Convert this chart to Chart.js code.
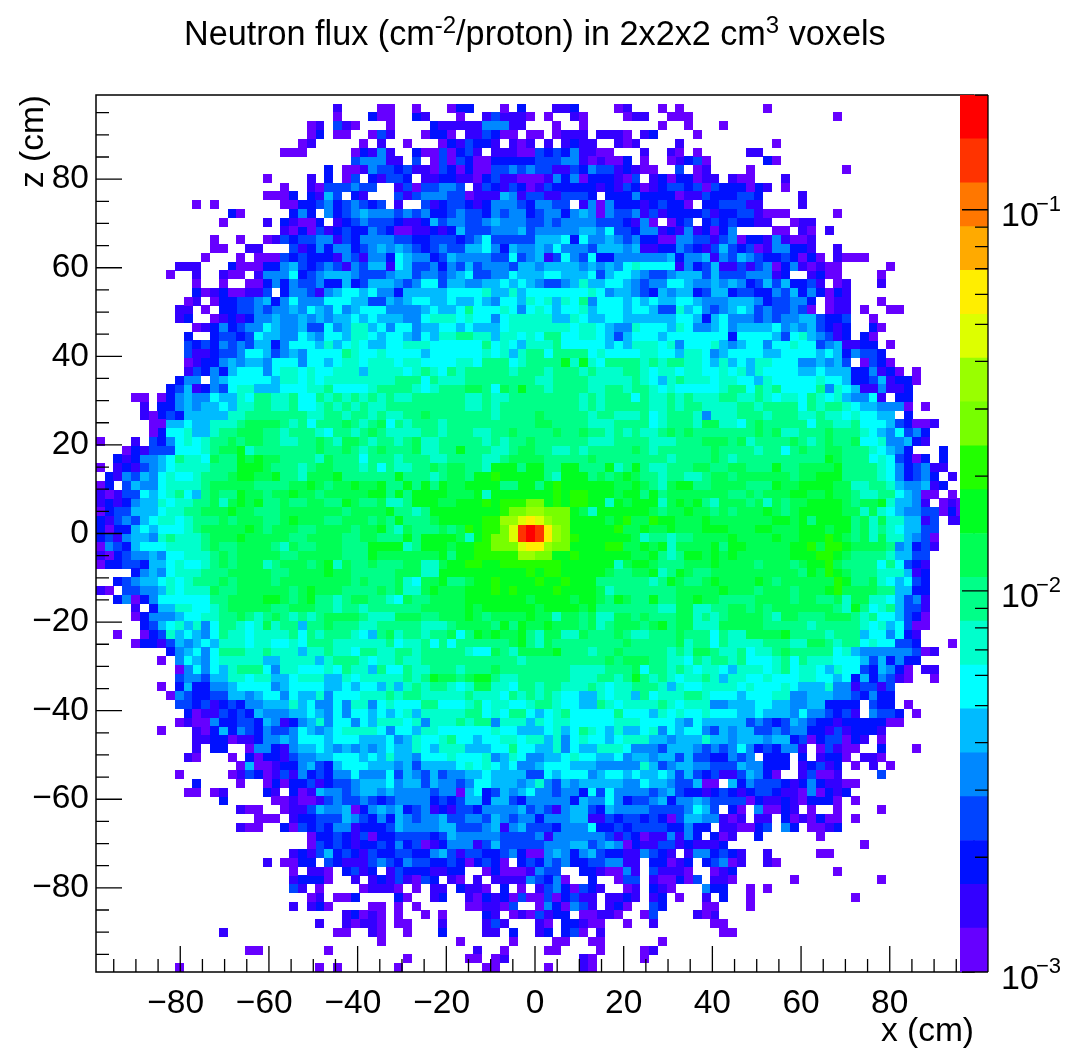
<!DOCTYPE html>
<html>
<head>
<meta charset="utf-8">
<title>Neutron flux</title>
<script src="https://cdn.jsdelivr.net/npm/chart.js@4"></script>
<style>
body { margin: 0; background: #fff; }
canvas { position: absolute; top: 0; }
#flux { left: 0; }
#palette { left: 950px; }
</style>
</head>
<body>
<canvas id="flux" width="1068" height="1052"></canvas>
<canvas id="palette" width="118" height="1052"></canvas>
<script>
const fontName = '"Liberation Sans", Arial, sans-serif';

const xTicks = [-80, -60, -40, -20, 0, 20, 40, 60, 80];
const zTicks = [-80, -60, -40, -20, 0, 20, 40, 60, 80];
const minorTicks = [-95, -90, -85, -75, -70, -65, -55, -50, -45, -35, -30, -25, -15, -10, -5, 5, 10, 15, 25, 30, 35, 45, 50, 55, 65, 70, 75, 85, 90, 95];

// bottom to top of the colour bar
const paletteColors = ['#6600ff', '#3300ff', '#0011ff', '#0044ff', '#0088ff', '#00bbff', '#00ffff', '#00ffcc', '#00ff88', '#00ff55', '#00ff22', '#22ff00', '#77ff00', '#99ff00', '#ddff00', '#ffee00', '#ffaa00', '#ff7700', '#ff3300', '#ff0000'];
const levelEdges = [0.001, 0.001303, 0.001699, 0.002213, 0.002885, 0.00376, 0.0049, 0.006388, 0.008326, 0.01085, 0.01414, 0.01843, 0.02402, 0.03131, 0.04081, 0.05318, 0.06931, 0.09034, 0.1177, 0.1534, 0.2];
const levelChars = '0123456789abcdefghij';
const barMajorTicks = [0.001, 0.01, 0.1];
const barExponents = ['\u22123', '\u22122', '\u22121'];
const barMinorTicks = [0.002, 0.003, 0.004, 0.005, 0.006, 0.007, 0.008, 0.009, 0.02, 0.03, 0.04, 0.05, 0.06, 0.07, 0.08, 0.09, 0.2];

const binLow = -99;
const binWidth = 1.98;
const segmentStarts = [0, 33, 66];

const titleParts = [['Neutron flux (cm', 0], ['-2', 1], ['/proton) in 2x2x2 cm', 0], ['3', 1], [' voxels', 0]];

// one string per row of voxels from the top, one char per bin = colour band, '.' = empty.
// the spaces only split the row at columns 33 and 66
const cellRows = [
"",
"...........................1....0 0..0...022...0.2...112....01...0. 0.........0",
"...........................0...20 0..21...0..131110.0..10....011..0 00................0",
"........................01.310... 0....21111144411...0..0........0. .0...0",
"........................02.00..03 1...0220.113200.00.0111.1110.12.. ..0",
".......................01.....0.1 ..0...0213221.101.1.1211..101.... 1..........0",
".....................000.....0214 1..20030231.11100323241100...1..1 0.0.....11",
".............................3444 11.3.03032002222233344101002.0..0 1230......20",
"..........................2.00143 3231103202003343433113243312100.. 3.01....0..........0",
"...................0....1.2.03.21 332.1122110231100014240222103.120 22011.100...1",
".....................0..10333433. .13033443.13213201322222121320123 32303222021.0",
"...................0002.2153.21.. .31344433011154133113332.22242222 0113222332....1",
"...........0.0.......002234234323 .1..31233212444324433.14042221232 20.2233311....1",
"...............20.....242.4234544 434342234332434423442454043341312 2223122331000.....0",
"..............0....1.21002.123433 3211253443345444334344443332140.0 23.23232211..011",
".....................102031232243 200112125333444534444455463324412 1412024....00.10.1",
".............0..0..01323344132444 433223332346333335556264454342200 4433134022141001",
".............00..11...31242442345 454323433556425445464443555451122 4321353230144221..1",
"............0...0.000323222143144 265442354444336345136436224444445 24451435432232020.1000",
".........111...200022453234314355 165334243534443554555545454676666 1423511313402410100.....0",
"........0..1..100.144462345554333 455344345633446555665556356654334 5553533344412..1200....0",
"...........0..0..0024243342252355 543466355445565654334575566543446 65445454235352231.01...1",
"...........201200113.244314566564 425555566667557566666667645543254 55235523322435242021",
"..........01.02233452464446665533 545665565565466576757684666565655 6654445554233442.011...0",
".........11.0.2233434454654645666 444456556866676467656675666566533 7564345653433430.011.0..00",
".........12..01212445445454556565 554467776766467777755765566555555 66525644434344553223..0",
"...........0124234465445336457756 466455665655567777777677654476665 76445645555645453212..20",
"..........2..23323655446546657765 665465778877577676886677653566656 66666626666536754312.20",
"..........32324343552466657567655 667776666668676577786666656577767 46667545664667663451122.0",
"..........31123346653454666687667 666656666667675788688886766667766 577645666655666656524332",
"..........01224545546664665677677 76776666776888678888a7a7688887878 87765756577666445453.0320",
"..........13242566646776766777577 776787687888887888788878777887677 67766767576666556555224120.0",
".........244.45666665776767777777 788868777888888887788887777787657 8777677665766666766522351220",
"........2351243677555666778666678 888767888998698a88788887788788767 666667886878666684765114112",
"....00.02454465576887786687878787 877888888778778888888878788868778 787778877876776876754461.22",
".....1.22454556577887786678787877 888888888778788888888878788888778 788777788788886878876554440.0",
".....1023255555778888888778878878 778898888888788889888887887778678 8874777888788877877676655.2",
"......005565577789999878688898789 687888788888888889988887778888678 887997768988888688778666532001",
"......026675578899988788876887898 777788788877889888898898878787789 89888888898977888988876546342",
"0...1.324676788989988778898799878 878977888887878898888887778888777 88899989788889878988966744521",
"...0213336667899a7888888898898789 88897788a888778998877878888898788 888898888788689889988876542...2",
"..21244568776988a9a99888879888688 878887788887789999888889888888887 88889878888888888a98886763202.2",
"0.12134567777888aaa98887899888786 877889899887aaa8aa88aa888a78a8778 88998899888a889999a888876423411",
".214354676678889aa99a887999a88888 8a88878998aabaaaaa87aaa8989a98878 8778998999999899aaa88887642342.1",
"02.354467777899999888899a9899a99a 88a8a8a99aaaa88aa8abaaaaaa99a9879 aa889999888a99aaaa9977887544512",
"1013365678658988a99899a99899999aa 8a8aaaa999a7aaaaaaababbaaa9aa8a89 9999998898999aa99a998778865400.0",
"1212455767788979a9a889889988a9889 778aaa99aaababbbccababbaa7a9aaa79 a9a879998979899aaaa9899a75541.010",
"023355567788999a99888999999989999 a8878aaaaaaaabccddccca97aaaaaa989 9a99898999a989aaaaa99797654433020",
"2134356776788898999889a9998899989 8a8889aaaaabbddefedccaaaa9ab99baa 999a9999999aa9a8aaaa8979775513.11",
"20225656667899999a98999889999899a 879888989babbceijifdcaaaaab99a99a 999aaa999aa999aaa9aa8978765533",
"2314554787778999a9999988999988998 88a8aaaa97abcceijifdcbaaaaaa97887 889999a9999a99aaaba98979775430",
"0432566677778988999987988999888aa aa78aaa9aabbccceffdccaaaabb99a9a7 9999a8aa99999aab9bba9999845231",
"1023445466777898999998899999888a9 999999a8aabbbbbddccaabaaaaaa99a87 8aa9a9a999999aaabba9888875533",
"02233255676678989997899989a798898 8899779aabbaabbbbbbbaaaaaa79aa988 8999a9999899989aab98888686321",
"....2454677788899999889999a998888 899977aaaaaaaaaababbaaaaa98899a78 a98899999999998a9ba9888777512",
"..2345567678889899998999999998988 897699a889aabaaaabaabaaa88888878a 9889a9999a98999999ba889765632",
"10.334457677798899999989a99988889 89779a999aaababaaaabaaaa978888888 99999a99989998999ab9999885522",
"..24024666666889999aa989a88789988 769889999aaaaaaa9aaaa9aa98a988a88 99a99888899998998897997765341",
"....1.255776678999998899988788788 888899999a9aaaaaa9aaaa9a888888877 99778899898999999987a86785331",
"....02444566778898789878789999877 799988999a989999a9979989779989888 99787899998799888999878665320",
".....2356757468876797885889888778 8888777899998a8a99a999897899989a8 99777999998888878888876756300",
"..0..0237565468776777786878887658 9788788968a9a99a87997798889877888 988868779999a888878885664621",
"....02213545657776776676888777777 867786868888889a87988888888988888 9788687777888779987886766332...0",
"........2456468887787775778776887 7887888887669879999a8887889888887 879987786778988888675444444301",
".......0.465467777755777757888767 787788888888888788888888898999887 7687887866678687776665352422",
".........046465788864776667687758 668778887888988888888777788896887 876776577767867765766325420.11",
".........344355776775567775576777 77878a9989aa8778888887778878a8787 677875776676667766562524310..0",
".......0.252244566664566665565665 757878876799776887887778767788875 7667777676667655574413313",
"........0432233554566465574666777 878877777877768787876655767758677 7887666566677445554432422",
".........332312324455575644647746 766688666786776678876655876777787 677744555665544552222.322.0",
"..........20113232544455654646656 567577777886768865678666668666576 766766655655546443231.4332.0",
".........010042233254124574664657 776747778788477757677666667776666 54655555343235432212222200",
".......0...1025243243346545677776 466577666666766555675687657556746 566435455334344221312221",
"...........1122011244546665666555 645766786656677677574676656777554 5557554555455230233021.0",
"...........1.22..0442145565454545 655765777555668665574655777644435 554343464232441.03100..2...0",
"..........10...0.2022134455666565 755466676667457644556766556455455 353322434.222.2.1220.110",
"................05001224532566655 545355556767656445666555444447534 5544333544222.12312.0.1.0",
".........0.....013201314232446444 635435344556555533656664566565565 353231135420..13001....3",
"...........2....0..02022312334555 645535443466555457435455555446554 33500.524333212421100",
"..........00.01....21.20154434554 544443440562354564434426364444345 32212321233211040212",
"..............2.....0010013433432 344442323552553244444254464233452 4454333302112102220.0",
"................100..011354450245 452341213324444534314553254444333 34653.20.40021.0..0....0",
"..................000.12233354324 254344533443543442444551132332320 35544101.11.2010200.0",
"................100..203232441222 354444553334514533324446223233332 2422.110023.42.0012",
"........................022321302 233332354444433334144444431320114 142.201..2......0",
"........................032321223 242301244413533333444553454021133 121112...............0",
"......................12135232132 233224531332234200454245322114321 .1442321..1.....00",
"...................1.0022.3211134 32433223202320.23243422334411.220 12.23401..10",
"......................0.110.2312. 132221122..020001433..2210041.311 10..012...........0",
"......................12220..1.12 131032.10.1.111143240..2..033.100 203.110......0.........0",
"......................31.0....011 10.0.11.2110.2.0.13420321..01.210 ...422..0.0",
"........................01.002... .20..12..102120300302311.1121.12. 0..1.2..0...........0",
"......................1.120....00 .0.0.....001103..0420431.120..32. ...00...0",
"............................12010 .0..0.0....21.0103122.00110..03.. ..101",
".........................1..10110 .00...1....131...10.22100..0..1.. ....00",
"..............1............00..10 ..0...2....11.2..12.230.1........ .....00",
"................................0 ........0.....0....00..00......0.",
".................00.......0...... ..........1..0....00....0....01..",
". ..0......00.01........10.....0...",
".........0...............0.0..... .0.........00.....0...10........."
];

const cellsByLevel = paletteColors.map(() => []);
cellRows.forEach((row, r) => {
    row.split(' ').forEach((segment, s) => {
        [...segment].forEach((ch, i) => {
            const level = levelChars.indexOf(ch);
            if (level < 0) return;
            cellsByLevel[level].push({
                x: binLow + (segmentStarts[s] + i + 0.5) * binWidth,
                y: -binLow - (r + 0.5) * binWidth
            });
        });
    });
});

function cellSprite(color) {
    const sprite = document.createElement('canvas');
    sprite.width = 9;
    sprite.height = 9;
    const c = sprite.getContext('2d');
    c.fillStyle = color;
    c.fillRect(0, 0, 9, 9);
    return sprite;
}

function tickLabel(v) {
    return v < 0 ? '\u2212' + (-v) : String(v);
}

const frameAndTicks = {
    id: 'frameAndTicks',
    beforeDatasetsDraw(chart) {
        chart.ctx.imageSmoothingEnabled = false;
    },
    afterDatasetsDraw(chart) {
        const ctx = chart.ctx;
        const area = chart.chartArea;
        const xs = chart.scales.x;
        const ys = chart.scales.y;
        ctx.save();
        ctx.strokeStyle = '#000';
        ctx.lineWidth = 1.5;
        ctx.strokeRect(area.left, area.top, area.right - area.left, area.bottom - area.top);
        ctx.lineWidth = 1.3;
        ctx.beginPath();
        xTicks.forEach(v => {
            ctx.moveTo(xs.getPixelForValue(v), area.bottom);
            ctx.lineTo(xs.getPixelForValue(v), area.bottom - 26);
        });
        minorTicks.forEach(v => {
            ctx.moveTo(xs.getPixelForValue(v), area.bottom);
            ctx.lineTo(xs.getPixelForValue(v), area.bottom - 13);
        });
        zTicks.forEach(v => {
            ctx.moveTo(area.left, ys.getPixelForValue(v));
            ctx.lineTo(area.left + 26, ys.getPixelForValue(v));
        });
        minorTicks.forEach(v => {
            ctx.moveTo(area.left, ys.getPixelForValue(v));
            ctx.lineTo(area.left + 13, ys.getPixelForValue(v));
        });
        ctx.stroke();
        ctx.restore();
    },
    afterDraw(chart) {
        // title has raised parts, the title plugin cannot do those
        const ctx = chart.ctx;
        ctx.save();
        ctx.fillStyle = '#000';
        ctx.textAlign = 'left';
        ctx.textBaseline = 'alphabetic';
        let x = 184;
        titleParts.forEach(part => {
            ctx.font = (part[1] ? 24 : 34.2) + 'px ' + fontName;
            ctx.fillText(part[0], x, part[1] ? 33 : 45);
            x += ctx.measureText(part[0]).width;
        });
        ctx.restore();
    }
};

const barTicks = {
    id: 'barTicks',
    afterDraw(chart) {
        const ctx = chart.ctx;
        const area = chart.chartArea;
        const ys = chart.scales.y;
        ctx.save();
        ctx.strokeStyle = '#000';
        ctx.lineWidth = 1.3;
        ctx.beginPath();
        ctx.moveTo(area.right, area.top);
        ctx.lineTo(area.right, area.bottom);
        barMajorTicks.forEach(v => {
            ctx.moveTo(area.right, ys.getPixelForValue(v));
            ctx.lineTo(area.right - 26, ys.getPixelForValue(v));
        });
        barMinorTicks.forEach(v => {
            ctx.moveTo(area.right, ys.getPixelForValue(v));
            ctx.lineTo(area.right - 13, ys.getPixelForValue(v));
        });
        ctx.stroke();
        ctx.fillStyle = '#000';
        ctx.textAlign = 'left';
        ctx.textBaseline = 'alphabetic';
        barMajorTicks.forEach((v, i) => {
            const y = ys.getPixelForValue(v);
            ctx.font = '34px ' + fontName;
            ctx.fillText('10', 51, y + 16.5);
            ctx.font = '22px ' + fontName;
            ctx.fillText(barExponents[i], 86, y + 1);
        });
        ctx.restore();
    }
};

new Chart(document.getElementById('flux'), {
    type: 'scatter',
    data: {
        datasets: paletteColors.map((color, level) => ({
            data: cellsByLevel[level],
            pointStyle: cellSprite(color),
            pointRadius: 5,
            pointHoverRadius: 5,
            borderWidth: 0
        }))
    },
    options: {
        responsive: false,
        animation: false,
        events: [],
        layout: { padding: { top: 95, right: 94 } },
        plugins: { legend: { display: false }, tooltip: { enabled: false } },
        scales: {
            x: {
                type: 'linear',
                min: binLow,
                max: -binLow,
                afterFit: s => { s.height = 80; },
                afterBuildTicks: s => { s.ticks = xTicks.map(v => ({ value: v })); },
                grid: { display: false, drawTicks: false },
                border: { display: false },
                ticks: {
                    autoSkip: false,
                    maxRotation: 0,
                    padding: 12,
                    color: '#000',
                    font: { size: 33.5, family: fontName },
                    // trailing space: negative labels sit a little left of their tick
                    callback: v => v < 0 ? tickLabel(v) + ' ' : tickLabel(v)
                },
                title: {
                    display: true,
                    text: 'x (cm)',
                    align: 'end',
                    color: '#000',
                    font: { size: 33.5, family: fontName },
                    padding: 0
                }
            },
            y: {
                type: 'linear',
                min: binLow,
                max: -binLow,
                afterFit: s => { s.width = 96; },
                afterBuildTicks: s => { s.ticks = zTicks.map(v => ({ value: v })); },
                grid: { display: false, drawTicks: false },
                border: { display: false },
                ticks: {
                    autoSkip: false,
                    padding: 7,
                    color: '#000',
                    font: { size: 33.5, family: fontName },
                    callback: tickLabel
                },
                title: {
                    display: true,
                    text: 'z (cm)',
                    align: 'end',
                    color: '#000',
                    font: { size: 33.5, family: fontName },
                    padding: { top: 14, bottom: 0 }
                }
            }
        }
    },
    plugins: [frameAndTicks]
});

new Chart(document.getElementById('palette'), {
    type: 'bar',
    data: {
        labels: ['flux'],
        datasets: paletteColors.map((color, level) => ({
            data: [[levelEdges[level], levelEdges[level + 1]]],
            backgroundColor: color,
            borderWidth: 0,
            grouped: false,
            barPercentage: 1,
            categoryPercentage: 1
        }))
    },
    options: {
        responsive: false,
        animation: false,
        events: [],
        layout: { padding: { left: 10, right: 80, top: 95, bottom: 80 } },
        plugins: { legend: { display: false }, tooltip: { enabled: false } },
        scales: {
            x: { display: false },
            y: { type: 'logarithmic', min: 0.001, max: 0.2, display: false }
        }
    },
    plugins: [barTicks]
});
</script>
</body>
</html>
